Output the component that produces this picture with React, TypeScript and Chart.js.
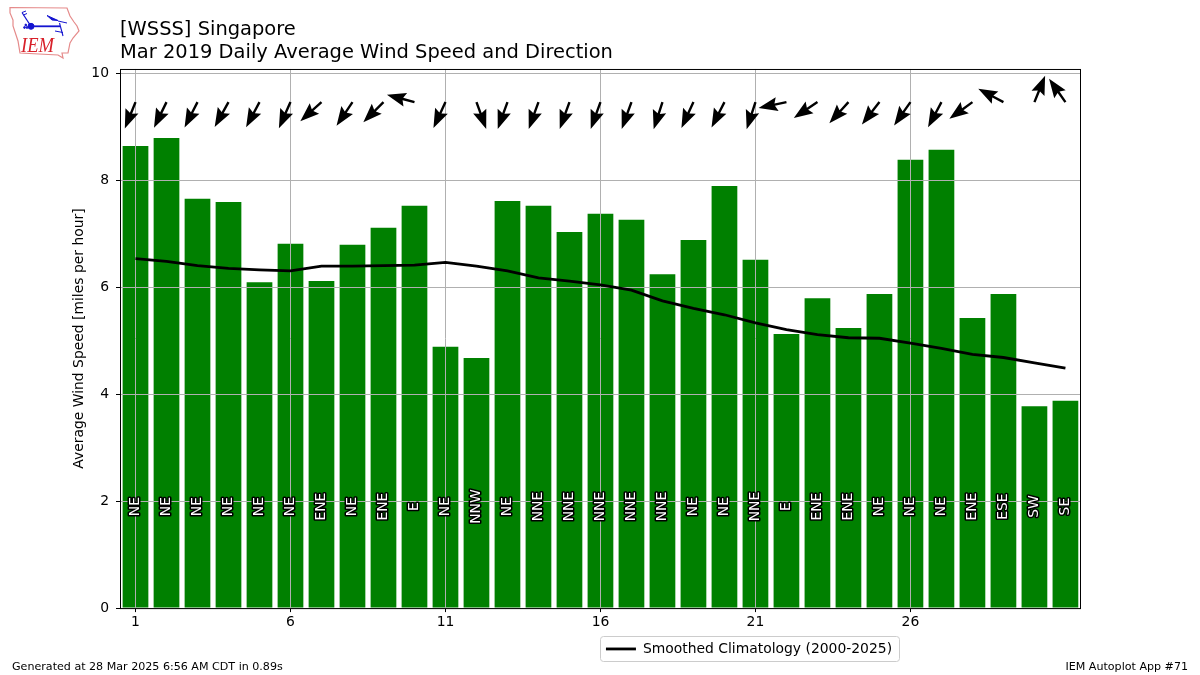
import React, { useEffect, useRef } from "react";
import { Chart, registerables } from "chart.js";

Chart.register(...registerables);

const days = [1,2,3,4,5,6,7,8,9,10,11,12,13,14,15,16,17,18,19,20,21,22,23,24,25,26,27,28,29,30,31];
const avgSpeed = [8.65,8.80,7.66,7.60,6.10,6.82,6.12,6.80,7.12,7.53,4.89,4.68,7.62,7.53,7.04,7.38,7.27,6.25,6.89,7.90,6.52,5.13,5.80,5.24,5.88,8.39,8.58,5.43,5.88,3.78,3.88];
const climatology = [6.54,6.49,6.41,6.36,6.33,6.31,6.40,6.40,6.41,6.42,6.47,6.40,6.31,6.18,6.12,6.05,5.95,5.75,5.61,5.49,5.34,5.21,5.12,5.06,5.05,4.96,4.86,4.75,4.69,4.59,4.49];
const directionDeg = [22,26,27,29,28,24,48,34,45,105,25,340,20,20,20,20,20,18,25,27,18,78,56,42,38,35,28,54,118,202,145];
const compass = ["NE","NE","NE","NE","NE","NE","ENE","NE","ENE","E","NE","NNW","NE","NNE","NNE","NNE","NNE","NNE","NE","NE","NNE","E","ENE","ENE","NE","NE","NE","ENE","ESE","SW","SE"];
const xTicks = [1,6,11,16,21,26];
const yTicks = [0,2,4,6,8,10];
const titleLines = ["[WSSS] Singapore","Mar 2019 Daily Average Wind Speed and Direction"];
const yAxisTitle = "Average Wind Speed [miles per hour]";
const legendLabel = "Smoothed Climatology (2000-2025)";
const footerLeft = "Generated at 28 Mar 2025 6:56 AM CDT in 0.89s";
const footerRight = "IEM Autoplot App #71";

const FONT = "'DejaVu Sans', sans-serif";
const ARROW_Y = 9.47;
const LABEL_Y = 1.9;

const overlays = {
  id: "overlays",
  afterLayout(chart: any) {
    const l = chart.legend;
    if (l) {
      l.left = 598; l.right = 900; l.width = 302;
      l.top = 636; l.bottom = 662; l.height = 26;
    }
  },
  beforeDraw(chart: any) {
    const ctx = chart.ctx;
    ctx.save();
    ctx.fillStyle = "#fff";
    ctx.strokeStyle = "#cccccc";
    ctx.lineWidth = 1;
    ctx.beginPath();
    ctx.roundRect(600.5, 636.5, 299, 25, 3);
    ctx.fill();
    ctx.stroke();
    ctx.restore();
  },
  beforeDatasetDraw(_chart: any, args: any) {
    if (args.index === 1) return false;
  },
  afterDraw(chart: any) {
    const { ctx, chartArea: a, scales } = chart;
    chart.getDatasetMeta(1).controller.draw();

    ctx.save();
    ctx.strokeStyle = "#000";
    ctx.lineWidth = 1;
    ctx.strokeRect(a.left + 0.5, a.top + 0.5, a.right - a.left, a.bottom - a.top);

    // compass labels
    ctx.font = `13.9px ${FONT}`;
    ctx.textAlign = "center";
    ctx.textBaseline = "middle";
    ctx.lineJoin = "round";
    days.forEach((d, i) => {
      ctx.save();
      ctx.translate(scales.x.getPixelForValue(d), scales.y.getPixelForValue(LABEL_Y));
      ctx.rotate(-Math.PI / 2);
      ctx.strokeStyle = "#000";
      ctx.lineWidth = 3;
      ctx.strokeText(compass[i], 0, 0);
      ctx.fillStyle = "#fff";
      ctx.fillText(compass[i], 0, 0);
      ctx.restore();
    });

    // wind arrows: tail on the day position, head pointing where the wind blows to
    ctx.fillStyle = "#000";
    days.forEach((d, i) => {
      const th = (directionDeg[i] * Math.PI) / 180;
      ctx.save();
      ctx.translate(scales.x.getPixelForValue(d), scales.y.getPixelForValue(ARROW_Y));
      ctx.rotate(th);
      const len = 28.5, hl = 19, hn = 16.5, hw = 7, sw = 1.2;
      ctx.beginPath();
      ctx.moveTo(-sw, 0);
      ctx.lineTo(sw, 0);
      ctx.lineTo(sw, len - hn);
      ctx.lineTo(hw, len - hl);
      ctx.lineTo(0, len);
      ctx.lineTo(-hw, len - hl);
      ctx.lineTo(-sw, len - hn);
      ctx.closePath();
      ctx.fill();
      ctx.restore();
    });

    // footer
    ctx.font = `11.1px ${FONT}`;
    ctx.textBaseline = "alphabetic";
    ctx.fillStyle = "#000";
    ctx.textAlign = "left";
    ctx.fillText(footerLeft, 12, 670);
    ctx.textAlign = "right";
    ctx.fillText(footerRight, 1188, 670);
    ctx.restore();
  },
};

function Logo() {
  return (
    <svg
      width={85}
      height={62}
      viewBox="0 0 85 62"
      style={{ position: "absolute", left: 0, top: 0 }}
    >
      <path
        d="M10 7.5 L67 8 L70 16 L74 22 L77 26 L79 31 L73 38 L70 43 L68 53 L62 53 L63 58 L58 55 L20 53 L18 41 L13 26 L13 20 L10 13 Z"
        fill="#fff"
        stroke="#e58a8a"
        strokeWidth={1.2}
      />
      <g stroke="#1414d0" fill="#1414d0">
        <line x1={31} y1={26.3} x2={60} y2={26.3} strokeWidth={1.8} />
        <circle cx={31} cy={26.3} r={3} />
        <line x1={31} y1={26.3} x2={22} y2={12.5} strokeWidth={1.2} />
        <line x1={22} y1={12.5} x2={26} y2={11} strokeWidth={1} />
        <line x1={23.5} y1={15} x2={27} y2={13.5} strokeWidth={1} />
        <path d="M47 15.5 L58 20.5 L52 20 Z" strokeWidth={1} />
        <line x1={58} y1={21} x2={67} y2={23} strokeWidth={1} />
        <line x1={59.5} y1={23} x2={63} y2={36} strokeWidth={1.1} />
        <line x1={55} y1={31} x2={63} y2={32.5} strokeWidth={1} />
        <circle cx={24.5} cy={27.5} r={0.9} />
        <circle cx={27} cy={27.5} r={0.9} />
        <circle cx={25.8} cy={25} r={0.9} />
      </g>
      <text
        x={21}
        y={52}
        fontFamily="'Liberation Serif', serif"
        fontStyle="italic"
        fontSize={22}
        fill="#d8202a"
        textLength={33}
        lengthAdjust="spacingAndGlyphs"
      >
        IEM
      </text>
    </svg>
  );
}

export default function App() {
  const ref = useRef<HTMLCanvasElement | null>(null);
  useEffect(() => {
    const chart = new Chart(ref.current as any, {
      type: "bar",
      data: {
        datasets: [
          {
            type: "bar",
            label: "Average Wind Speed",
            data: days.map((d, i) => ({ x: d, y: avgSpeed[i] })),
            backgroundColor: "#008000",
            barPercentage: 0.83,
            categoryPercentage: 1,
          },
          {
            type: "line",
            label: legendLabel,
            data: days.map((d, i) => ({ x: d, y: climatology[i] })),
            borderColor: "#000",
            backgroundColor: "#000",
            borderWidth: 2.8,
            pointRadius: 0,
            tension: 0,
            fill: false,
          },
        ],
      } as any,
      options: {
        responsive: false,
        animation: false,
        devicePixelRatio: 1,
        layout: { padding: { left: 60, right: 120, top: 0, bottom: 7 } },
        plugins: {
          title: {
            display: true,
            text: titleLines,
            align: "start",
            fullSize: false,
            color: "#000",
            font: { family: FONT, size: 19.47, lineHeight: 1.155, weight: "normal" },
            padding: { top: 19, bottom: 5 },
          },
          legend: {
            display: true,
            position: "bottom",
            align: "center",
            labels: {
              usePointStyle: true,
              pointStyle: "line",
              pointStyleWidth: 30,
              color: "#000",
              font: { family: FONT, size: 13.9 },
              padding: 6,
              filter: (item: any) => item.datasetIndex === 1,
            },
            onClick: () => {},
          },
          tooltip: { enabled: false },
        },
        scales: {
          x: {
            type: "linear",
            min: 0.5,
            max: 31.47,
            offset: false,
            afterBuildTicks: (s: any) => {
              s.ticks = xTicks.map((value) => ({ value }));
            },
            afterFit: (s: any) => {
              s.height = 30;
            },
            grid: { offset: false, color: "#b0b0b0", lineWidth: 1, tickColor: "#000", tickLength: 4, z: 1 },
            border: { display: false },
            ticks: {
              color: "#000",
              font: { family: FONT, size: 13.9 },
              maxRotation: 0,
              autoSkip: false,
              padding: 2,
              callback: (v: any) => String(v),
            },
          },
          y: {
            type: "linear",
            min: 0,
            max: 10.09,
            afterBuildTicks: (s: any) => {
              s.ticks = yTicks.map((value) => ({ value }));
            },
            afterFit: (s: any) => {
              s.width = 60;
            },
            grid: { color: "#b0b0b0", lineWidth: 1, tickColor: "#000", tickLength: 4, z: 1 },
            border: { display: false },
            title: {
              display: true,
              text: yAxisTitle,
              color: "#000",
              font: { family: FONT, size: 13.9, weight: "normal" },
              padding: { top: 11, bottom: 0 },
            },
            ticks: {
              color: "#000",
              font: { family: FONT, size: 13.9 },
              autoSkip: false,
              padding: 7,
              callback: (v: any) => String(v),
            },
          },
        },
      } as any,
      plugins: [overlays as any],
    });
    return () => chart.destroy();
  }, []);
  return (
    <div style={{ position: "absolute", left: 0, top: 0, width: 1200, height: 675, background: "#fff" }}>
      <canvas ref={ref} width={1200} height={675} style={{ display: "block" }} />
      <Logo />
    </div>
  );
}
